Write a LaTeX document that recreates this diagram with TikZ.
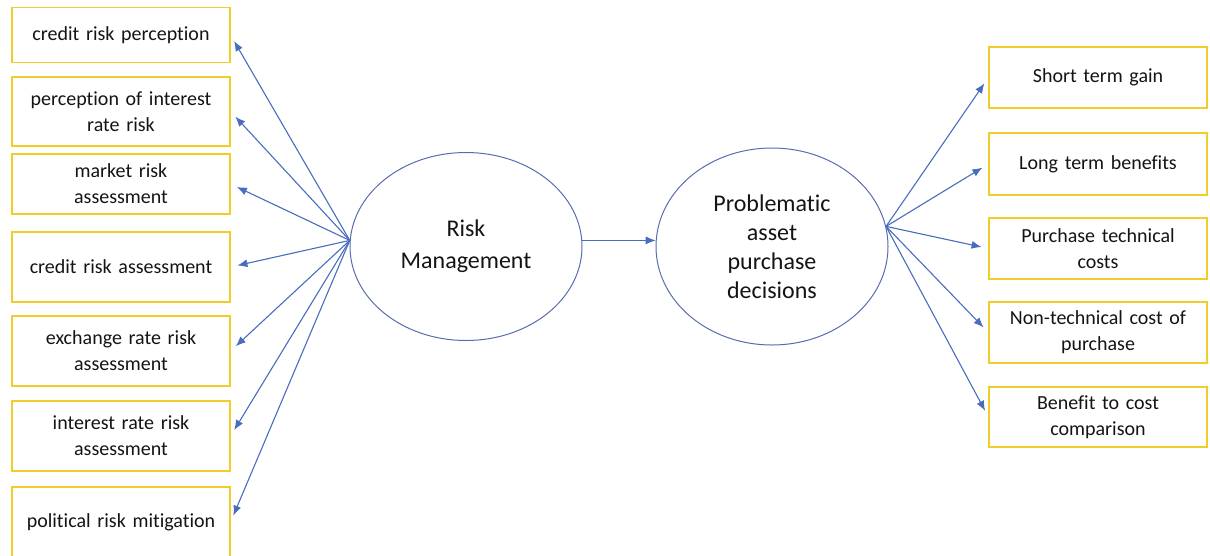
\documentclass[tikz,border=0pt]{standalone}
\usepackage{fontspec}
\setmainfont{Carlito}[Ligatures=NoCommon]
\usetikzlibrary{positioning,shapes.geometric,arrows.meta}
\definecolor{boxyellow}{RGB}{240,205,40}
\definecolor{linkblue}{RGB}{72,108,190}
\definecolor{ovalblue}{RGB}{88,108,176}
\definecolor{inktext}{RGB}{20,20,20}

\tikzstyle{factor} = [align=center,draw=boxyellow,line width=1.2pt,rectangle,text width=212pt,minimum width=218pt,inner sep=0pt,text=inktext,font=\fontsize{20}{26}\selectfont]
\tikzstyle{construct} = [ellipse,draw=ovalblue,line width=1pt,align=center,inner sep=0pt,minimum width=232pt,text=inktext]
\tikzstyle{link} = [draw=linkblue,line width=1.1pt,-{Latex[length=10pt,width=8pt]},shorten >=7pt]

\begin{document}
\begin{tikzpicture}[x=1pt,y=-1pt]
	\useasboundingbox (0,0) rectangle (1210,555);
	\node (crp) [factor,minimum height=55pt] at (121,35) {credit risk perception};
	\node (pirr) [factor,minimum height=69pt,node distance=76.5pt,below of=crp] {perception of interest\\rate risk};
	\node (mra) [factor,minimum height=60pt,node distance=72.5pt,below of=pirr] {market risk\\assessment};
	\node (cra) [factor,minimum height=70pt,node distance=83pt,below of=mra] {credit risk assessment};
	\node (erra) [factor,minimum height=70pt,node distance=84pt,below of=cra] {exchange rate risk\\assessment};
	\node (irra) [factor,minimum height=70pt,node distance=85pt,below of=erra] {interest rate risk\\assessment};
	\node (prm) [factor,minimum height=70pt,node distance=86pt,below of=irra] {political risk mitigation};
	\node (rm) [construct,minimum height=188pt,font=\fontsize{24}{32}\selectfont] at (466,246.5) {Risk\\Management};
	\node (pd) [construct,minimum height=197pt,font=\fontsize{24}{29}\selectfont,node distance=306pt,right of=rm] {Problematic\\asset\\purchase\\decisions};
	\node (stg) [factor,minimum height=61pt] at (1098,77.5) {Short term gain};
	\node (ltb) [factor,minimum height=62pt,node distance=86.5pt,below of=stg] {Long term benefits};
	\node (ptc) [factor,minimum height=61pt,node distance=84.5pt,below of=ltb] {Purchase technical\\costs};
	\node (ntc) [factor,minimum height=61pt,node distance=84pt,below of=ptc] {Non-technical cost of\\purchase};
	\node (bcc) [factor,minimum height=60pt,node distance=84.5pt,below of=ntc] {Benefit to cost\\comparison};
	\coordinate (rmfan) at (rm.177);
	\coordinate (pdfan) at (pd.10);
	\draw [link] (rmfan) -- (crp.east);
	\draw [link] (rmfan) -- (pirr.east);
	\draw [link] (rmfan) -- (mra.east);
	\draw [link] (rmfan) -- (cra.east);
	\draw [link] (rmfan) -- (erra.east);
	\draw [link] (rmfan) -- (irra.east);
	\draw [link] (rmfan) -- (prm.east);
	\draw [link,shorten >=0pt] (rm.3) -- (pd.177);
	\draw [link] (pdfan) -- (stg.west);
	\draw [link] (pdfan) -- (ltb.west);
	\draw [link] (pdfan) -- (ptc.west);
	\draw [link] (pdfan) -- (ntc.west);
	\draw [link] (pdfan) -- (bcc.west);
\end{tikzpicture}
\end{document}
